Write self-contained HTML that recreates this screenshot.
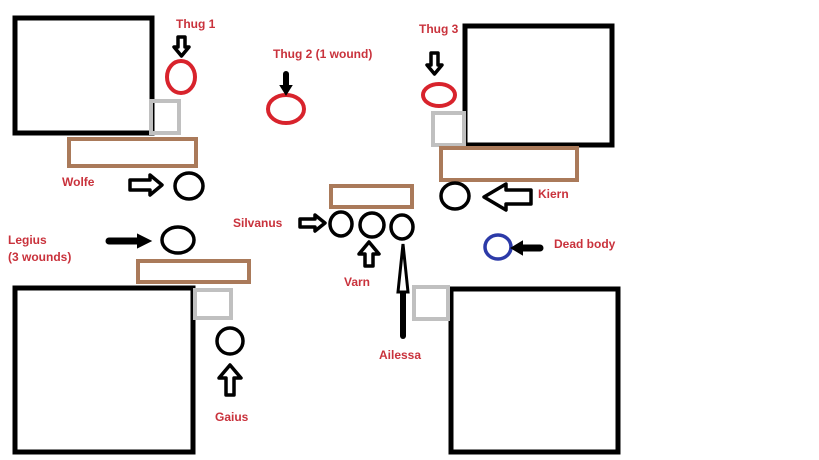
<!DOCTYPE html><html><head><style>body{margin:0;background:#fff}svg{display:block}text{font-family:"Liberation Sans",sans-serif;font-weight:bold;font-size:12px;fill:#c9323c}</style></head><body>
<svg width="819" height="460" viewBox="0 0 819 460">
<g fill="none" stroke="#000" stroke-width="5">
<rect x="15" y="18" width="137" height="115"/>
<rect x="465" y="26" width="147" height="119"/>
<rect x="15" y="288" width="178" height="164"/>
<rect x="451" y="289" width="167" height="163"/>
</g>
<g fill="none" stroke="#c0c0c0" stroke-width="4">
<rect x="151" y="101" width="28" height="32"/>
<rect x="433" y="113" width="31" height="32"/>
<rect x="195" y="290" width="36" height="28"/>
<rect x="414" y="287" width="34" height="32"/>
</g>
<g fill="none" stroke="#aa7a5a" stroke-width="4">
<rect x="69" y="139" width="127" height="27"/>
<rect x="441" y="148" width="136" height="32"/>
<rect x="138" y="261" width="111" height="21"/>
<rect x="331" y="186" width="81" height="21"/>
</g>
<g fill="none" stroke="#d8232c" stroke-width="4">
<ellipse cx="181" cy="77" rx="14" ry="16"/>
<ellipse cx="286" cy="109" rx="18" ry="14"/>
<ellipse cx="439" cy="95" rx="16" ry="11"/>
</g>
<g fill="none" stroke="#000" stroke-width="3.5">
<ellipse cx="189" cy="186" rx="14" ry="13"/>
<ellipse cx="455" cy="196" rx="14" ry="13"/>
<ellipse cx="178" cy="240" rx="16" ry="13"/>
<ellipse cx="341" cy="224" rx="11" ry="12"/>
<ellipse cx="372" cy="225" rx="12" ry="12"/>
<ellipse cx="402" cy="227" rx="11" ry="12"/>
<ellipse cx="230" cy="341" rx="13" ry="13"/>
</g>
<ellipse cx="498" cy="247" rx="13" ry="12" fill="none" stroke="#2c3aa8" stroke-width="3.5"/>
<g fill="#fff" stroke="#000" stroke-width="3.5" stroke-linejoin="round">
<path d="M178 37 h7 v10 h4 l-7.5 9 l-7.5 -9 h4z"/>
<path d="M431 53 h7 v12 h4 l-7.5 9 l-7.5 -9 h4z"/>
<path d="M130 180 h20 v-5 l12 10 l-12 10 v-5 h-20z"/>
<path d="M300 219 h15 v-4 l10 8 l-10 8 v-4 h-15z"/>
<path d="M531 190 h-25 v-6 l-22 13 l22 13 v-6 h25z"/>
<path d="M365 266 v-12 h-6 l10 -12 l10 12 h-6 v12z"/>
<path d="M226 395 v-17 h-7 l11 -13 l11 13 h-7 v17z"/>
</g>
<g stroke="#000" stroke-linecap="round">
<line x1="286" y1="74" x2="286" y2="88" stroke-width="6"/>
<path d="M281 86 l5 8 l5 -8z" fill="#000" stroke-width="2"/>
<line x1="109" y1="241" x2="140" y2="241" stroke-width="7"/>
<path d="M138 235 l12 6 l-12 6z" fill="#000" stroke-width="2"/>
<line x1="520" y1="248" x2="540" y2="248" stroke-width="7"/>
<path d="M522 242 l-10 6 l10 6z" fill="#000" stroke-width="2"/>
<line x1="403" y1="290" x2="403" y2="336" stroke-width="6"/>
<path d="M398 292 l5 -48 l5 48z" fill="#fff" stroke-width="3"/>
</g>
<text x="176" y="28">Thug 1</text>
<text x="273" y="58">Thug 2 (1 wound)</text>
<text x="419" y="33">Thug 3</text>
<text x="62" y="186">Wolfe</text>
<text x="538" y="198">Kiern</text>
<text x="233" y="227">Silvanus</text>
<text x="8" y="244">Legius</text>
<text x="8" y="261">(3 wounds)</text>
<text x="554" y="248">Dead body</text>
<text x="344" y="286">Varn</text>
<text x="379" y="359">Ailessa</text>
<text x="215" y="421">Gaius</text>
</svg></body></html>
